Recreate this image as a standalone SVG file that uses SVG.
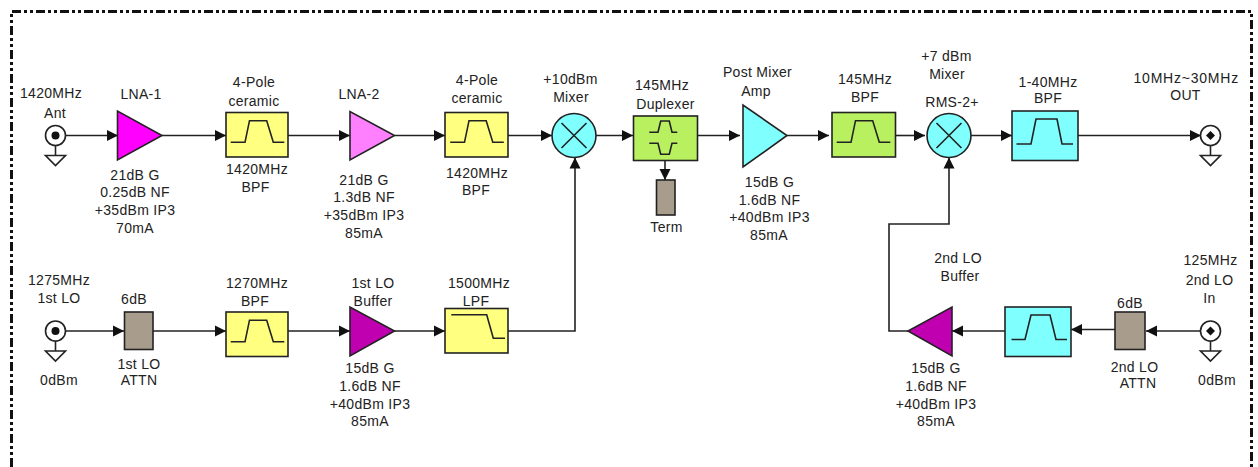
<svg xmlns="http://www.w3.org/2000/svg" width="1258" height="467" viewBox="0 0 1258 467">
<style>
text{font-family:"Liberation Sans",Arial,sans-serif;font-size:14px;fill:#222;text-anchor:middle;letter-spacing:.3px}
.s{stroke:#222;stroke-width:1.6;fill:none}
.c{stroke:#222;stroke-width:1.6;fill:none;marker-end:url(#a)}
.b{stroke:#222;stroke-width:1.6}
.y{fill:#ffff80}.t{fill:#80ffff}.g{fill:#b8f060}.k{fill:#a89c8c}.w{fill:#fff}
.frame{fill:none;stroke:#111;stroke-width:3;stroke-dasharray:9 3 3 3 3 3}
</style>
<defs>
<marker id="a" markerUnits="userSpaceOnUse" markerWidth="12" markerHeight="12" refX="11" refY="6" orient="auto"><path d="M0 .5L11 6L0 11.5Z" fill="#111"/></marker>
<path id="bp" class="s" d="M4.700 29.800H19L23.500 8.200H40.700L47.300 29.800H58.300"/>
<g id="conn"><circle class="b w" r="10"/><path class="s" d="M0 10V20M-10 20H10L0 30Z"/></g>
<g id="mix"><circle class="b t" r="22"/><path class="s" d="M-12.500-12.500L12.500 12.500M12.500-12.500L-12.500 12.500"/></g>
</defs>
<rect width="1258" height="467" fill="#fff"/>
<path class="frame" d="M11.500 467V11.500H1251.500V467"/>
<g id="connectors">
<path class="c" d="M65.500 135.500H118"/><path class="c" d="M162 135.500H226"/><path class="c" d="M288 135.500H350"/><path class="c" d="M394.500 135.500H445"/><path class="c" d="M508 135.500H552"/><path class="c" d="M596 135.500H633"/><path class="c" d="M698 135.500H740"/><path class="c" d="M787 135.500H829"/><path class="c" d="M896 135.500H925"/><path class="c" d="M971 135.500H1012"/><path class="c" d="M1078 135.500H1201"/><path class="c" d="M665 160V180"/>
<path class="c" d="M65.500 331H124"/><path class="c" d="M153 331H226"/><path class="c" d="M288 331H350"/><path class="c" d="M394.500 331H445"/><path class="c" d="M508 331H575V157.500"/>
<path class="c" d="M908 331H889V224H949V157.500"/><path class="c" d="M1200 331H1146"/><path class="c" d="M1115 329.500H1071"/><path class="c" d="M1005 331H952"/>
</g>
<g id="ant"><use href="#conn" x="55.500" y="135.500"/><circle cx="55.500" cy="135.500" r="4" fill="#111"/><text x="51" y="98">1420MHz</text><text x="55" y="118">Ant</text></g>
<g id="lna1"><path class="b" fill="#ff00ff" d="M117.500 111V160L162 135.500Z"/><text x="141" y="98.500">LNA-1</text><text x="135" y="180">21dB G</text><text x="135" y="197">0.25dB NF</text><text x="135" y="215">+35dBm IP3</text><text x="135" y="233">70mA</text></g>
<g id="bpf1"><rect class="b y" x="226" y="112.500" width="62" height="44.500"/><use href="#bp" x="226" y="112.500"/><text x="254" y="87">4-Pole</text><text x="254" y="105.500">ceramic</text><text x="257" y="174">1420MHz</text><text x="255.500" y="192">BPF</text></g>
<g id="lna2"><path class="b" fill="#ff80ff" d="M350 111.500V160L394.500 135.500Z"/><text x="359" y="99">LNA-2</text><text x="364" y="185">21dB G</text><text x="364" y="202">1.3dB NF</text><text x="364" y="220">+35dBm IP3</text><text x="364" y="238">85mA</text></g>
<g id="bpf2"><rect class="b y" x="445" y="112.500" width="63" height="44.500"/><use href="#bp" x="445.500" y="112.500"/><text x="477" y="85">4-Pole</text><text x="477" y="103">ceramic</text><text x="477" y="177.500">1420MHz</text><text x="476" y="195">BPF</text></g>
<g id="mixer1"><use href="#mix" x="574" y="135.500"/><text x="570.500" y="84">+10dBm</text><text x="571" y="102">Mixer</text></g>
<g id="duplexer"><rect class="b g" x="633.500" y="116" width="64" height="44.500"/><path class="s" d="M649.300 132.300H658L660.700 121H669.300L672 132.300H677.300M649.300 143.300H658L660.700 154.300H669.300L672 143.300H677.300"/><text x="662" y="90">145MHz</text><text x="665.500" y="109">Duplexer</text></g>
<g id="term"><rect class="b k" x="656.500" y="180" width="18.500" height="35"/><text x="666.500" y="231.500">Term</text></g>
<g id="postamp"><path class="b t" d="M743 105V167L787 135.500Z"/><text x="757.500" y="77">Post Mixer</text><text x="756" y="96">Amp</text><text x="769.500" y="187">15dB G</text><text x="769.500" y="205">1.6dB NF</text><text x="769.500" y="222">+40dBm IP3</text><text x="769" y="240">85mA</text></g>
<g id="bpf145"><rect class="b g" x="832" y="112.500" width="63.500" height="44.500"/><use href="#bp" x="832" y="112.500"/><text x="865" y="84">145MHz</text><text x="865" y="102">BPF</text></g>
<g id="mixer2"><use href="#mix" x="949" y="135.500"/><text x="946.500" y="61">+7 dBm</text><text x="947" y="79">Mixer</text><text x="952" y="107">RMS-2+</text></g>
<g id="bpf140"><rect class="b t" x="1012" y="111" width="66" height="49.500"/><path class="s" d="M1016.500 144H1031L1036 119H1057L1062 144H1073"/><text x="1048" y="87">1-40MHz</text><text x="1048" y="103">BPF</text></g>
<g id="out"><use href="#conn" x="1210.500" y="135.500"/><path fill="#111" d="M1210.500 131L1215 135.500L1210.500 140L1206 135.500Z"/><text x="1186" y="82.500" textLength="105">10MHz~30MHz</text><text x="1185.500" y="100">OUT</text></g>
<g id="lo1"><use href="#conn" x="55.500" y="331"/><circle cx="55.500" cy="331" r="4" fill="#111"/><text x="59" y="284.500">1275MHz</text><text x="59" y="302.500">1st LO</text><text x="59" y="385">0dBm</text></g>
<g id="attn1"><rect class="b k" x="124.500" y="312" width="28.500" height="37.500"/><text x="134" y="304">6dB</text><text x="139" y="368.500">1st LO</text><text x="139" y="385">ATTN</text></g>
<g id="bpf1270"><rect class="b y" x="226" y="312" width="62" height="44.500"/><use href="#bp" x="226" y="312"/><text x="257" y="288">1270MHz</text><text x="255" y="306">BPF</text></g>
<g id="buf1"><path class="b" fill="#c000b0" d="M350 307V356L394.500 331Z"/><text x="373" y="288">1st LO</text><text x="373" y="306">Buffer</text><text x="370" y="372.500">15dB G</text><text x="370" y="391">1.6dB NF</text><text x="370" y="409">+40dBm IP3</text><text x="370" y="426">85mA</text></g>
<g id="lpf"><rect class="b y" x="445" y="308.500" width="63" height="44.500"/><path class="s" d="M451.300 314.700H486.700L493.300 338.300H505"/><text x="479" y="288">1500MHz</text><text x="476" y="305.500">LPF</text></g>
<g id="buf2"><path class="b" fill="#c000b0" d="M952 307V356L908 331Z"/><text x="958" y="263">2nd LO</text><text x="960" y="281">Buffer</text><text x="936" y="372.500">15dB G</text><text x="936" y="391">1.6dB NF</text><text x="936" y="409">+40dBm IP3</text><text x="936" y="426">85mA</text></g>
<g id="bpf2lo"><rect class="b t" x="1005" y="307" width="66" height="49.500"/><path class="s" d="M1011.500 339.500H1025L1031 315H1050L1056 339.500H1067"/></g>
<g id="attn2"><rect class="b k" x="1115" y="312" width="30" height="37.500"/><text x="1130" y="307.500">6dB</text><text x="1134.500" y="372">2nd LO</text><text x="1138" y="388">ATTN</text></g>
<g id="lo2"><use href="#conn" x="1210.500" y="331"/><path fill="#111" d="M1210.500 326.500L1215 331L1210.500 335.500L1206 331Z"/><text x="1210.500" y="265">125MHz</text><text x="1209.500" y="284.500">2nd LO</text><text x="1209.500" y="302.500">In</text><text x="1217" y="385">0dBm</text></g>
</svg>
